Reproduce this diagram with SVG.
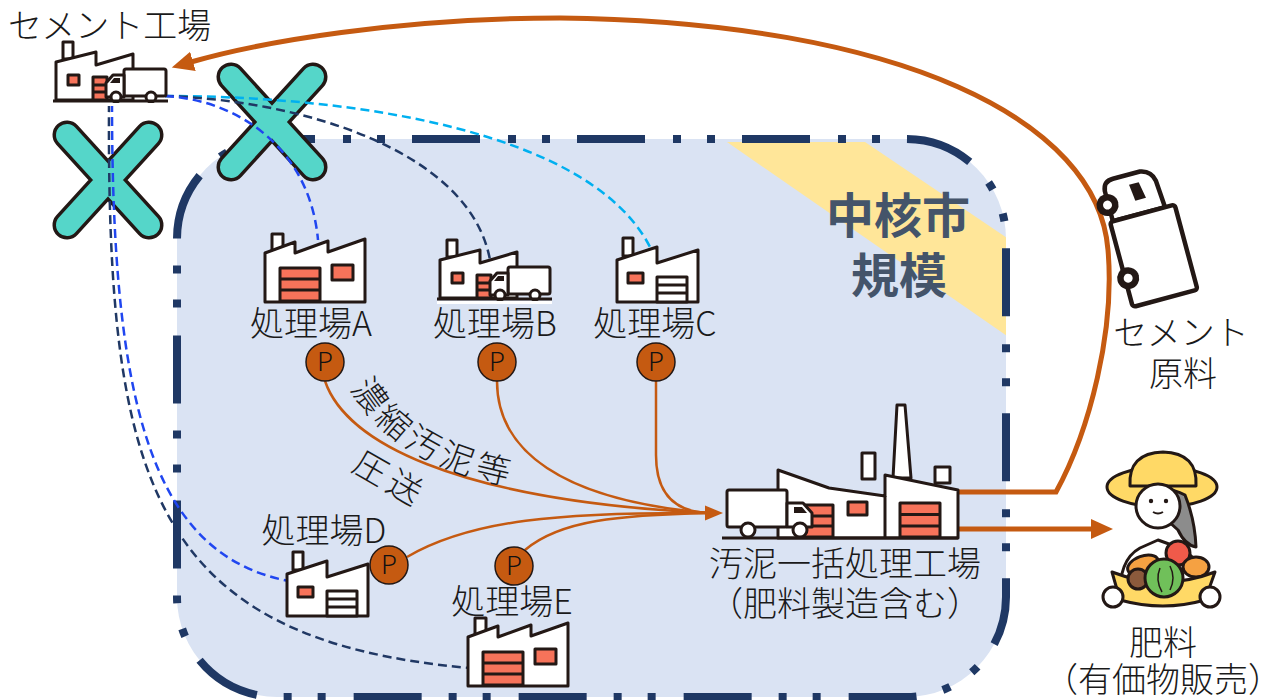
<svg xmlns="http://www.w3.org/2000/svg" width="1262" height="700" viewBox="0 0 1262 700">
  <defs>
    <style>
      .lbl { font-family: 'Noto Sans CJK JP', 'Noto Sans CJK SC', sans-serif; font-size: 34px; font-weight: 300; fill: #1a1a1a; }
      .mid { text-anchor: middle; }
      .big { font-family: 'Noto Sans CJK JP', 'Noto Sans CJK SC', sans-serif; font-size: 48px; font-weight: bold; fill: #44546A; text-anchor: middle; }
      .ol { stroke: #231815; stroke-width: 3; stroke-linejoin: round; }
      .ol4 { stroke: #231815; stroke-width: 4.5; stroke-linejoin: round; }
      .wh { fill: #ffffff; }
      .red { fill: #F7735A; }
      .line { fill: none; stroke: #231815; stroke-width: 3; }
      .pipe { fill: none; stroke: #C55A11; stroke-width: 2.5; }
      .flow { fill: none; stroke: #C55A11; stroke-width: 5; }
      .dash { fill: none; stroke-width: 2.5; stroke-dasharray: 9 5; }
      .pump { fill: #C55A11; stroke: #231815; stroke-width: 1.5; }
      .ptxt { font-family: 'Noto Sans CJK JP', 'Liberation Sans', sans-serif; font-size: 26px; font-weight: 300; fill: #111; text-anchor: middle; }
      .xo { fill: none; stroke: #231815; stroke-width: 29; stroke-linecap: round; }
      .xi { fill: none; stroke: #55D6C9; stroke-width: 22; stroke-linecap: round; }
    </style>

    <marker id="arrowBig" markerUnits="userSpaceOnUse" markerWidth="24" markerHeight="22" refX="2" refY="11" orient="auto">
      <path d="M0,1 L22,11 L0,21 Z" fill="#C55A11"/>
    </marker>

    <clipPath id="areaClip">
      <path d="M277,139 H906 A100,100 0 0 1 1006,239 V597 A100,100 0 0 1 906,697 H277 A100,100 0 0 1 177,597 V239 A100,100 0 0 1 277,139 Z"/>
    </clipPath>

    <!-- plant with shutter door on the left and window on the right -->
    <g id="facDoor">
      <rect x="7" y="1" width="11" height="18" class="wh ol"/>
      <path d="M0,69 V20 L30,9 V20 L63,8 V19 L100,6 V69 Z" class="wh ol"/>
      <rect x="15" y="35" width="40" height="33" class="red ol"/>
      <path d="M15,46 H55 M15,57 H55" class="line"/>
      <rect x="67" y="32" width="21" height="15" class="red ol"/>
    </g>

    <!-- plant with window on the left and white door on the right -->
    <g id="facWin">
      <rect x="6" y="0" width="10" height="18" class="wh ol"/>
      <path d="M0,64 V22 L40,9 V25 L81,12 V64 Z" class="wh ol"/>
      <rect x="11" y="35" width="15" height="10" class="red ol"/>
      <rect x="40" y="39" width="30" height="25" class="wh ol"/>
      <path d="M40,47 H70 M40,55 H70" class="line"/>
    </g>

    <!-- plant with a truck in front -->
    <g id="facTruck">
      <rect x="10" y="0" width="10" height="17" class="wh ol"/>
      <path d="M3,58 V20 L43,10 V23 L80,12 V58 Z" class="wh ol"/>
      <rect x="15" y="33" width="11" height="10" class="red ol"/>
      <rect x="40" y="35" width="14" height="23" class="red ol"/>
      <path d="M40,43 H54 M40,50 H54" class="line"/>
      <rect x="71" y="27" width="42" height="27" rx="2" class="wh ol"/>
      <path d="M71,55 V33 H60 L53,41 V55 Z" class="wh ol"/>
      <path d="M57,41 L61,36 H67 V41 Z" fill="#231815"/>
      <circle cx="63" cy="55" r="5" class="wh ol"/>
      <circle cx="98" cy="55" r="5" class="wh ol"/>
      <path d="M0,59 H115" class="line"/>
      <path d="M0,62.5 H115" stroke="#fff" stroke-width="3"/>
    </g>
  </defs>

  <!-- city-scale service area -->
  <g id="area">
    <path d="M277,139 H906 A100,100 0 0 1 1006,239 V597 A100,100 0 0 1 906,697 H277 A100,100 0 0 1 177,597 V239 A100,100 0 0 1 277,139 Z" fill="#DAE3F3"/>
    <polygon points="727,142 865,142 1010,240 1010,338" fill="#FFE699" clip-path="url(#areaClip)"/>
    <path d="M277,139 H906 A100,100 0 0 1 1006,239 V597 A100,100 0 0 1 906,697 H277 A100,100 0 0 1 177,597 V239 A100,100 0 0 1 277,139 Z" fill="none" stroke="#1F3864" stroke-width="8" stroke-dasharray="68 28 8 26 8 27" stroke-dashoffset="30"/>
    <text class="big" x="898" y="233">中核市</text>
    <text class="big" x="899" y="293">規模</text>
  </g>

  <!-- discontinued routes -->
  <g id="cross-1">
    <path class="xo" d="M67,135 L149,225 M149,135 L67,225"/>
    <path class="xi" d="M67,135 L149,225 M149,135 L67,225"/>
  </g>
  <g id="cross-2">
    <path class="xo" d="M231,77 L313,167 M313,77 L231,167"/>
    <path class="xi" d="M231,77 L313,167 M313,77 L231,167"/>
  </g>

  <!-- connectors -->
  <g id="connectors">
    <path class="dash" stroke="#00B0F0" d="M165,96 C350,96 590,130 650,247"/>
    <path class="dash" stroke="#203864" d="M165,96 C300,100 470,150 490,260"/>
    <path class="dash" stroke="#2046F0" d="M165,96 C240,100 310,150 318,240"/>
    <path class="dash" stroke="#2046F0" d="M112,103 C112,400 150,555 289,581"/>
    <path class="dash" stroke="#203864" d="M109,103 C107,480 150,640 470,668"/>

    <path class="pipe" d="M325,381 C345,440 450,500 708,513"/>
    <path class="pipe" d="M497,381 C497,450 560,500 708,513"/>
    <path class="pipe" d="M656,381 V455 Q656,511 708,513"/>
    <path class="pipe" d="M407,557 C470,520 560,512 708,513"/>
    <path class="pipe" d="M525,550 C560,520 620,515 708,513"/>
    <polygon points="723,513 705,505.5 705,520.5" fill="#C55A11"/>

    <path class="flow" d="M958,492 H1056 C1090,430 1115,330 1108,250 C1098,120 900,22 560,18 C400,18 260,42 191,62" marker-end="url(#arrowBig)"/>
    <path class="flow" d="M958,529 H1093" marker-end="url(#arrowBig)"/>

    <defs>
      <path id="labelPath1" d="M351,388 Q395,468 525,488"/>
      <path id="labelPath2" d="M350,470 L445,525"/>
    </defs>
    <text class="lbl" letter-spacing="5"><textPath href="#labelPath1">濃縮汚泥等</textPath></text>
    <text class="lbl" letter-spacing="5"><textPath href="#labelPath2">圧送</textPath></text>
  </g>

  <!-- cement plant -->
  <g id="cement-plant">
    <use href="#facTruck" transform="translate(53,42)"/>
    <text class="lbl" x="8" y="38">セメント工場</text>
  </g>

  <!-- treatment plants -->
  <g id="plant-a">
    <use href="#facDoor" transform="translate(265,233)"/>
    <text class="lbl mid" x="311" y="336">処理場A</text>
    <circle class="pump" cx="325" cy="362" r="19"/>
    <text class="ptxt" x="325" y="371">P</text>
  </g>
  <g id="plant-b">
    <use href="#facTruck" transform="translate(437,240)"/>
    <text class="lbl mid" x="495" y="336">処理場B</text>
    <circle class="pump" cx="497" cy="362" r="19"/>
    <text class="ptxt" x="497" y="371">P</text>
  </g>
  <g id="plant-c">
    <use href="#facWin" transform="translate(617,238)"/>
    <text class="lbl mid" x="655" y="336">処理場C</text>
    <circle class="pump" cx="656" cy="362" r="19"/>
    <text class="ptxt" x="656" y="371">P</text>
  </g>
  <g id="plant-d">
    <use href="#facWin" transform="translate(287,552)"/>
    <text class="lbl mid" x="324" y="543">処理場D</text>
    <circle class="pump" cx="389" cy="565" r="19"/>
    <text class="ptxt" x="389" y="574">P</text>
  </g>
  <g id="plant-e">
    <use href="#facDoor" transform="translate(468,617)"/>
    <text class="lbl mid" x="512" y="614">処理場E</text>
    <circle class="pump" cx="514" cy="566" r="19"/>
    <text class="ptxt" x="514" y="575">P</text>
  </g>

  <!-- central sludge plant -->
  <g id="central-plant">
    <path d="M893,478 L897,405 H905 L911,478 Z" class="wh ol"/>
    <rect x="862" y="453" width="13" height="26" class="wh ol"/>
    <rect x="935" y="467" width="15" height="16" class="wh ol"/>
    <path d="M778,538 V470 L829,488 L885,496 V475 L958,490 V538 Z" class="wh ol"/>
    <path d="M885,496 V538" class="line"/>
    <rect x="800" y="505" width="33" height="32" class="red ol"/>
    <path d="M800,516 H833 M800,526 H833" class="line"/>
    <rect x="848" y="502" width="19" height="13" class="red ol"/>
    <rect x="900" y="503" width="40" height="34" class="red ol"/>
    <path d="M900,514.5 H940 M900,526 H940" class="line"/>
    <rect x="727" y="490" width="60" height="37" rx="2" class="wh ol"/>
    <path d="M787,527 V503 H803 L812,513 V527 Z" class="wh ol"/>
    <path d="M794,507 H802 L807,513 H794 Z" fill="#231815"/>
    <circle cx="748" cy="530" r="7" class="wh ol"/>
    <circle cx="800" cy="530" r="7" class="wh ol"/>
    <path d="M722,538 H958" class="line"/>
    <text class="lbl mid" x="845" y="576">汚泥一括処理工場</text>
    <text class="lbl mid" x="845" y="616">（肥料製造含む）</text>
  </g>

  <!-- raw material truck -->
  <g id="raw-material">
    <g transform="translate(1110,222) rotate(-15)">
      <path d="M3,0 V-31 Q4,-41 14,-41 H42 Q53,-39 55,-28 L57,0 Z" class="wh ol4"/>
      <rect x="0" y="0" width="67" height="88" rx="3" class="wh ol4"/>
      <path d="M28,-31 H38 L41,-14 H30 Z" fill="#231815"/>
      <circle cx="2" cy="-17" r="11" fill="#231815"/>
      <circle cx="2" cy="-17" r="4.5" fill="#fff"/>
      <circle cx="3" cy="59" r="11" fill="#231815"/>
      <circle cx="3" cy="59" r="4.5" fill="#fff"/>
    </g>
    <text class="lbl mid" x="1181" y="345">セメント</text>
    <text class="lbl mid" x="1183" y="386">原料</text>
  </g>

  <!-- farmer with fertiliser-grown produce -->
  <g id="farmer">
    <ellipse cx="1162" cy="487" rx="55" ry="20" fill="#FFD966" class="ol"/>
    <path d="M1130,486 Q1128,453 1163,452 Q1198,453 1196,486 Z" fill="#FFD966" class="ol"/>
    <path d="M1145,500 Q1160,482 1185,495 Q1195,520 1196,547 Q1185,545 1178,530 Z" fill="#8C8C8C" class="ol"/>
    <path d="M1120,600 Q1118,560 1140,548 L1158,540 L1180,548 Q1205,560 1205,600 Z" class="wh ol"/>
    <ellipse cx="1158" cy="506" rx="22" ry="22" class="wh ol"/>
    <circle cx="1151" cy="501" r="2.2" fill="#231815"/>
    <circle cx="1166" cy="501" r="2.2" fill="#231815"/>
    <path d="M1153,512 Q1158,515 1163,512" fill="none" stroke="#231815" stroke-width="2"/>
    <circle cx="1178" cy="553" r="12" fill="#F05A4A" class="ol"/>
    <ellipse cx="1143" cy="565" rx="16" ry="9" fill="#F5A142" class="ol" transform="rotate(-20 1143 565)"/>
    <ellipse cx="1196" cy="567" rx="13" ry="10" fill="#F5A142" class="ol"/>
    <path d="M1112,572 Q1163,592 1215,572 L1205,600 Q1163,612 1120,600 Z" fill="#FFD966" class="ol"/>
    <circle cx="1138" cy="579" r="10" fill="#8B5A3C" class="ol"/>
    <circle cx="1164" cy="578" r="19" fill="#70C05A" class="ol"/>
    <path d="M1160,568 Q1155,580 1162,592 M1170,566 Q1176,578 1170,590" fill="none" stroke="#231815" stroke-width="1.5"/>
    <circle cx="1113" cy="597" r="10" class="wh ol"/>
    <circle cx="1210" cy="597" r="10" class="wh ol"/>
    <text class="lbl mid" x="1163" y="655">肥料</text>
    <text class="lbl mid" x="1163" y="692">（有価物販売）</text>
  </g>
</svg>
